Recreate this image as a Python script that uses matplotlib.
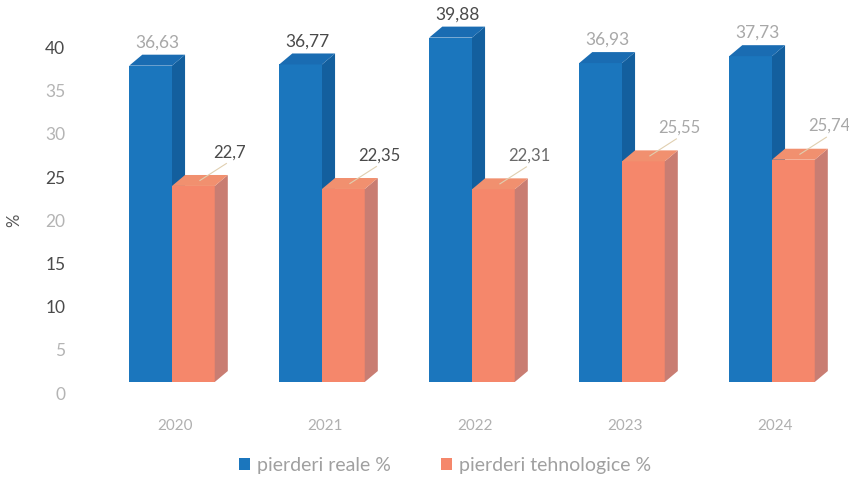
import matplotlib.pyplot as plt
import matplotlib.transforms as mtransforms
from matplotlib.patches import Polygon, Patch
import numpy as np

plt.rcParams['font.family'] = ['Lato', 'DejaVu Sans']

# ── data ──────────────────────────────────────────────────────────────────────
years = ['2020', '2021', '2022', '2023', '2024']
pierderi_reale = [36.63, 36.77, 39.88, 36.93, 37.73]
pierderi_tehnologice = [22.7, 22.35, 22.31, 25.55, 25.74]
series_names = ['pierderi reale %', 'pierderi tehnologice %']
yticks = [0, 5, 10, 15, 20, 25, 30, 35, 40]

# ── style ─────────────────────────────────────────────────────────────────────
BLUE = {'front': '#1b76bd', 'side': '#135f9e', 'top': '#1a6cb2'}
ORANGE = {'front': '#f5876b', 'side': '#c97d72', 'top': '#f1906f'}
BAR_W = 0.285     # width of one bar (group units)
DX, DY = 0.087, 1.27   # pseudo-3D depth offset
TICK_DARK = {40, 25, 15, 10}
LBL_GREY = '#a8a8a8'
LBL_DARK = '#4a4a4a'


def draw_box(ax, x0, v, col):
    x1 = x0 + BAR_W
    ax.add_patch(Polygon([(x0, 0), (x1, 0), (x1, v), (x0, v)],
                         closed=True, facecolor=col['front'], edgecolor='none', zorder=3))
    ax.add_patch(Polygon([(x1, 0), (x1 + DX, DY), (x1 + DX, v + DY), (x1, v)],
                         closed=True, facecolor=col['side'], edgecolor='none', zorder=3))
    ax.add_patch(Polygon([(x0, v), (x0 + DX, v + DY), (x1 + DX, v + DY), (x1, v)],
                         closed=True, facecolor=col['top'], edgecolor='none', zorder=3))


fig = plt.figure(figsize=(8.49, 4.83), dpi=100)
fig.patch.set_facecolor('white')
ax = fig.add_axes([100 / 849, 101 / 483, 750 / 849, 380 / 483])
ax.set_xlim(-0.5, 4.5)
ax.set_ylim(0, 44)

x = np.arange(len(years))
blue_colors = [LBL_GREY, LBL_DARK, LBL_DARK, LBL_GREY, LBL_GREY]
orange_colors = [LBL_DARK, LBL_DARK, '#6a6a6a', LBL_GREY, LBL_GREY]
SHIFT = -0.02   # bars sit slightly left of the category label

for i, (vb, vo) in enumerate(zip(pierderi_reale, pierderi_tehnologice)):
    xb = x[i] + SHIFT - BAR_W
    xo = x[i] + SHIFT
    draw_box(ax, xb, vb, BLUE)
    draw_box(ax, xo, vo, ORANGE)

    ax.text(xb + BAR_W / 2 + DX / 2, vb + DY + 1.4, f'{vb:.2f}'.replace('.', ','),
            ha='center', va='center', fontsize=12.5, color=blue_colors[i], zorder=5)

    lbl = f'{vo:g}'.replace('.', ',')
    ax.plot([xo + BAR_W / 2 + DX / 2, xo + BAR_W / 2 + 0.22],
            [vo + DY / 2, vo + 2.6], color='#e0cfb0', lw=0.8, zorder=4)
    ax.text(xo + BAR_W / 2 + 0.24, vo + 3.9, lbl,
            ha='center', va='center', fontsize=12, color=orange_colors[i], zorder=5)

ax.set_xticks(x)
ax.set_xticklabels(years, fontsize=11, color='#b0b0b0')
ax.tick_params(axis='x', length=0, pad=27)
ax.set_yticks(yticks)
ax.set_yticklabels([str(t) for t in yticks], fontsize=12.5)
ax.tick_params(axis='y', length=0, pad=25)
for t, lab in zip(yticks, ax.get_yticklabels()):
    lab.set_color(LBL_DARK if t in TICK_DARK else '#b4b4b4')
for s in ax.spines.values():
    s.set_visible(False)

ax.set_ylabel('%', fontsize=12, color='#555555')
ax.yaxis.set_label_coords(-0.104, 0.426)

# tick labels sit a little below the front-face baseline
shift = mtransforms.ScaledTranslation(0, -11 / 100, fig.dpi_scale_trans)
for lab in ax.get_yticklabels():
    lab.set_transform(lab.get_transform() + shift)

handles = [Patch(facecolor=BLUE['front'], edgecolor='none'),
           Patch(facecolor=ORANGE['front'], edgecolor='none')]
leg = fig.legend(handles, series_names, loc='center', bbox_to_anchor=(0.524, 0.036),
                 ncol=2, frameon=False, fontsize=14, handlelength=0.55, handleheight=0.55,
                 handletextpad=0.35, columnspacing=2.6)
for txt in leg.get_texts():
    txt.set_color('#a0a0a0')

fig.savefig('out.png', dpi=100, facecolor='white')
